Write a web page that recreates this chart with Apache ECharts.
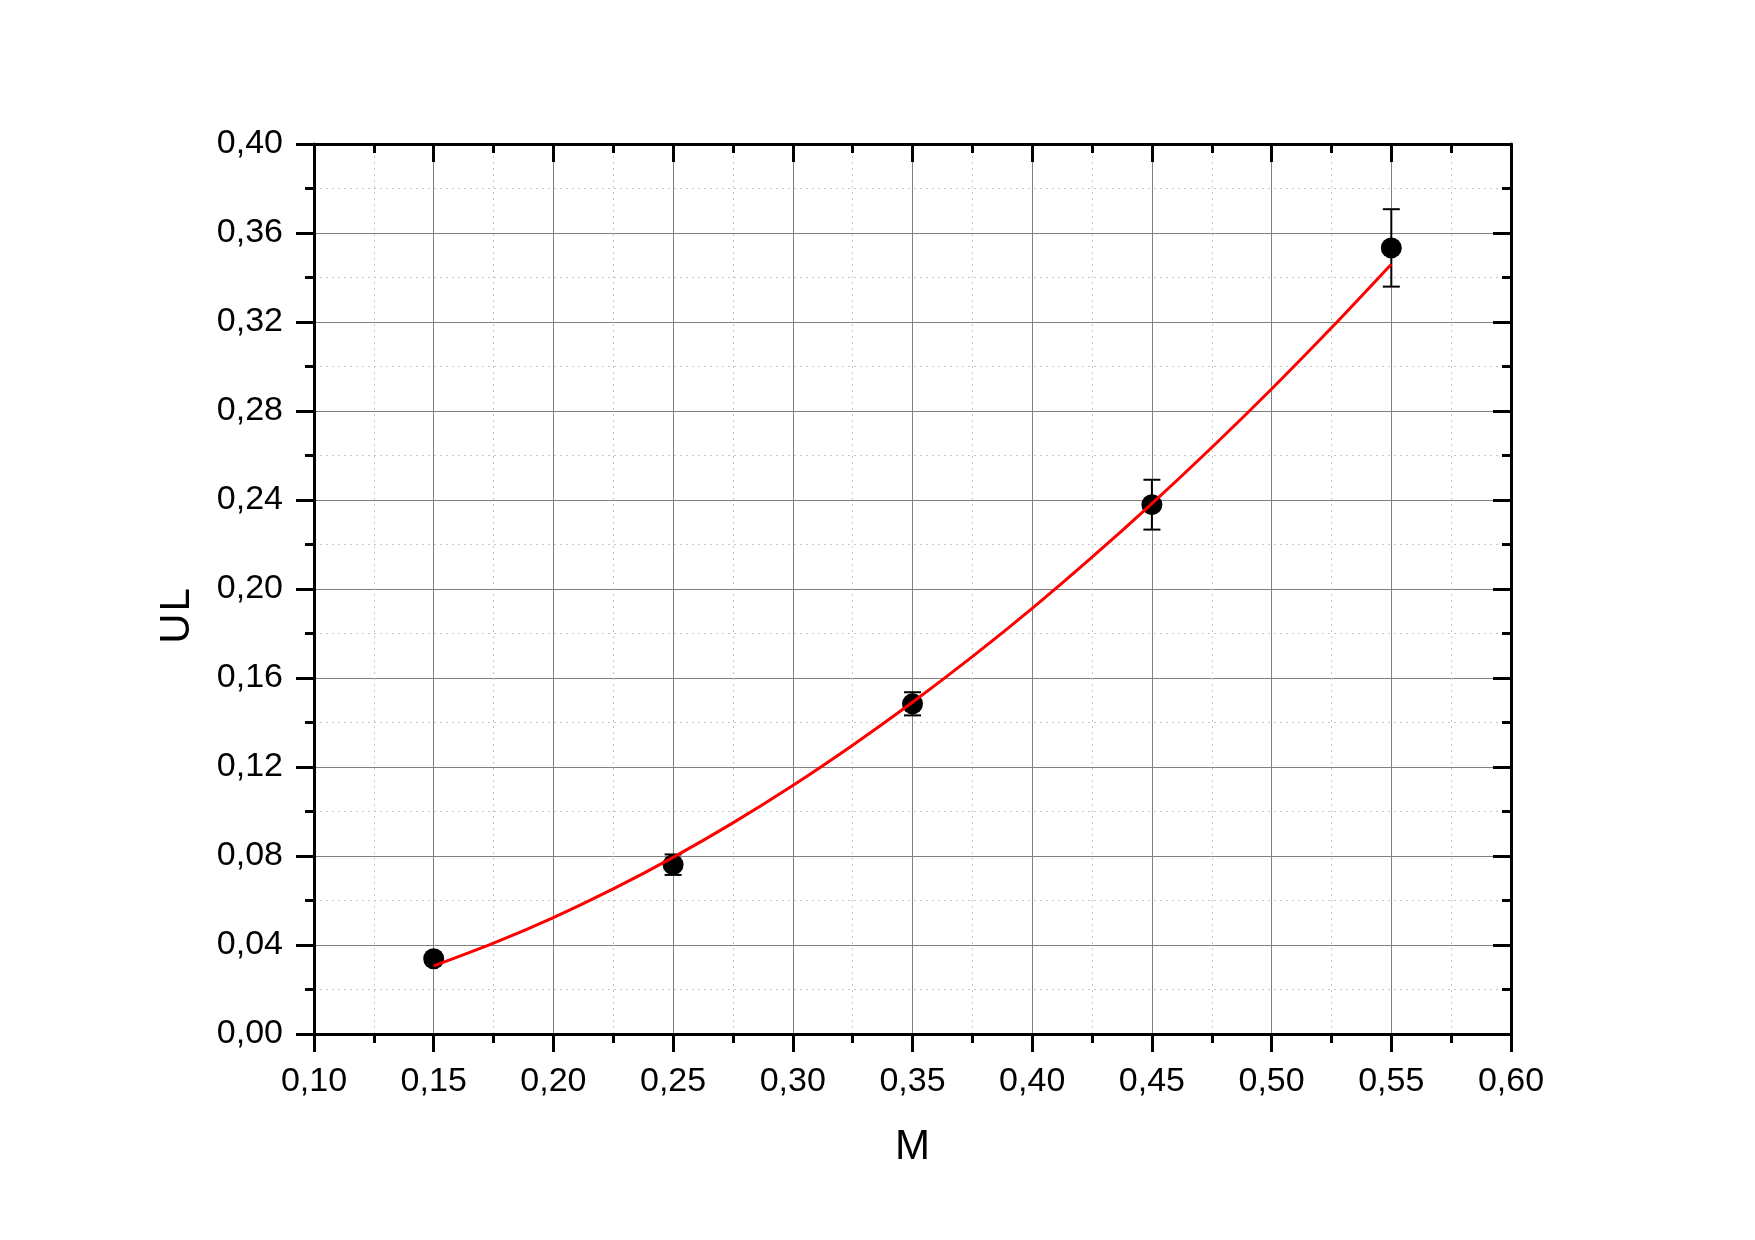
<!DOCTYPE html>
<html>
<head>
<meta charset="utf-8">
<script src="https://cdn.jsdelivr.net/npm/echarts@6/dist/echarts.min.js"></script>
<style>
  html, body { margin: 0; padding: 0; background: #fff; }
  #chart { width: 1755px; height: 1240px; }
</style>
</head>
<body>
<div id="chart"></div>
<script>
// measured points M -> UL with error (half-width)
const mValues = [0.15, 0.25, 0.35, 0.45, 0.55];
const ulValues = [0.0338, 0.0761, 0.1484, 0.2379, 0.3533];
const ulErrors = [0.002, 0.0046, 0.0052, 0.0112, 0.0174];

// red fit curve
const fitM = [0.15, 0.175, 0.20, 0.225, 0.25, 0.275, 0.30, 0.325, 0.35, 0.375, 0.40, 0.425, 0.45, 0.475, 0.50, 0.525, 0.55];
const fitUL = [0.0306, 0.0408, 0.0523, 0.0652, 0.0794, 0.0949, 0.1117, 0.1298, 0.1491, 0.1696, 0.1913, 0.2143, 0.2384, 0.2636, 0.2899, 0.3174, 0.3460];

const FONT = "'Liberation Sans', Arial, sans-serif";
const fmt = (v) => v.toFixed(2).replace(".", ",");

const chart = echarts.init(document.getElementById("chart"));

const points = mValues.map((m, i) => [m, ulValues[i]]);
const bars = mValues.map((m, i) => [m, ulValues[i] - ulErrors[i], ulValues[i] + ulErrors[i]]);
const fit = fitM.map((m, i) => [m, fitUL[i]]);

const baseX = { type: "value", min: 0.1, max: 0.6, interval: 0.05 };
const baseY = { type: "value", min: 0, max: 0.4, interval: 0.04 };
const axisLine = { show: true, onZero: false, lineStyle: { color: "#000", width: 3 } };
const tickOut = { show: true, inside: false, length: 18, lineStyle: { color: "#000", width: 3 } };
const tickIn = { show: true, inside: true, length: 18, lineStyle: { color: "#000", width: 3 } };
const minor = { show: true, splitNumber: 2, length: 9, lineStyle: { color: "#000", width: 3 } };

const option = {
  backgroundColor: "#fff",
  animation: false,
  grid: { left: 314, top: 144, right: 244, bottom: 206 },
  xAxis: [
    Object.assign({}, baseX, {
      position: "bottom",
      name: "M",
      nameLocation: "middle",
      nameGap: 92,
      nameTextStyle: { fontSize: 42, fontFamily: FONT, color: "#000" },
      axisLine: axisLine,
      axisTick: tickOut,
      minorTick: minor,
      axisLabel: { fontSize: 34, fontFamily: FONT, color: "#000", margin: 31, formatter: fmt },
      splitLine: { show: true, lineStyle: { color: "#808080", width: 1 } },
      minorSplitLine: { show: true, lineStyle: { color: "#c8c8c8", width: 1, type: [2, 4] } },
    }),
    Object.assign({}, baseX, {
      position: "top",
      axisLine: axisLine,
      axisTick: tickIn,
      minorTick: minor,
      axisLabel: { show: false },
      splitLine: { show: false },
    }),
  ],
  yAxis: [
    Object.assign({}, baseY, {
      position: "left",
      name: "U{s|L}",
      nameLocation: "middle",
      nameRotate: 90,
      nameGap: 116,
      nameTextStyle: {
        fontSize: 42, fontFamily: FONT, color: "#000",
        padding: [0, 54, 0, 0],
        rich: { s: { fontSize: 42, fontFamily: FONT, color: "#000", padding: [0, 0, 0, 2] } },
      },
      axisLine: axisLine,
      axisTick: tickOut,
      minorTick: minor,
      axisLabel: { fontSize: 34, fontFamily: FONT, color: "#000", margin: 31, formatter: fmt },
      splitLine: { show: true, lineStyle: { color: "#808080", width: 1 } },
      minorSplitLine: { show: true, lineStyle: { color: "#c8c8c8", width: 1, type: [2, 4] } },
    }),
    Object.assign({}, baseY, {
      position: "right",
      axisLine: axisLine,
      axisTick: tickIn,
      minorTick: minor,
      axisLabel: { show: false },
      splitLine: { show: false },
    }),
  ],
  series: [
    {
      type: "custom",
      z: 3,
      data: bars,
      renderItem: function (params, api) {
        const top = api.coord([api.value(0), api.value(2)]);
        const bot = api.coord([api.value(0), api.value(1)]);
        const w = 8.5;
        const style = { stroke: "#000", lineWidth: 2 };
        return {
          type: "group",
          children: [
            { type: "line", shape: { x1: top[0], y1: top[1], x2: bot[0], y2: bot[1] }, style: style },
            { type: "line", shape: { x1: top[0] - w, y1: top[1], x2: top[0] + w, y2: top[1] }, style: style },
            { type: "line", shape: { x1: bot[0] - w, y1: bot[1], x2: bot[0] + w, y2: bot[1] }, style: style },
          ],
        };
      },
    },
    {
      type: "scatter",
      z: 4,
      data: points,
      symbol: "circle",
      symbolSize: 21,
      itemStyle: { color: "#000", opacity: 1 },
    },
    {
      type: "line",
      z: 5,
      data: fit,
      smooth: 0.3,
      showSymbol: false,
      lineStyle: { color: "#ff0000", width: 3 },
    },
  ],
};

chart.setOption(option);
</script>
</body>
</html>
